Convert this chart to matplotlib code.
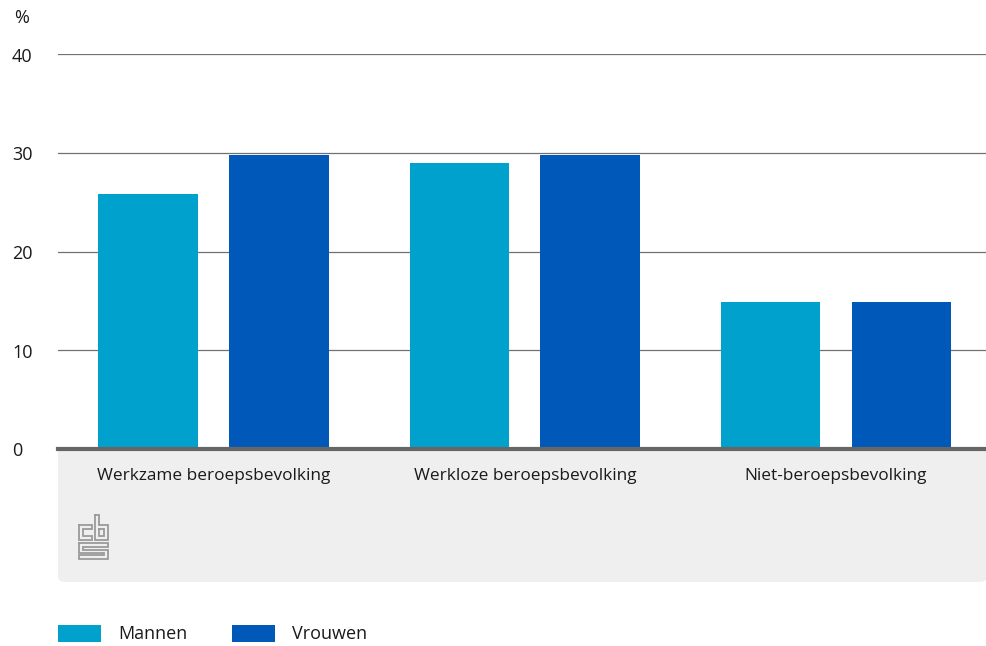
import matplotlib.pyplot as plt
from matplotlib.patches import FancyBboxPatch, Rectangle
from matplotlib.transforms import blended_transform_factory, offset_copy
import numpy as np

categories = ['Werkzame beroepsbevolking', 'Werkloze beroepsbevolking', 'Niet-beroepsbevolking']
mannen = [25.8, 29.0, 14.9]
vrouwen = [29.8, 29.8, 14.9]
yticks = [0, 10, 20, 30, 40]

c_man = '#00a1cd'
c_vrouw = '#0058b8'
txt = '#1a1a1a'
fs = 13

plt.rcParams['font.family'] = ['Open Sans', 'DejaVu Sans']

W, H = 987, 646
fig = plt.figure(figsize=(W / 100, H / 100), dpi=100)


def fx(px):
    return px / W


def fy(py):
    return 1 - py / H


# grey panel below the axis with rounded bottom corners
pad = 0.008
panel = FancyBboxPatch((fx(58) + pad, fy(582) + pad), fx(987 - 58) - 2 * pad, fy(449) - fy(582) - 2 * pad,
                       boxstyle='round,pad=%g' % pad, transform=fig.transFigure,
                       facecolor='#efefef', edgecolor='none', zorder=-2)
fig.patches.append(panel)
fig.patches.append(Rectangle((fx(58), fy(480)), fx(987 - 58), fy(449) - fy(480),
                             transform=fig.transFigure, facecolor='#efefef', edgecolor='none', zorder=-2))

ax = fig.add_axes([fx(58), fy(449), fx(987 - 58), fy(54) - fy(449)])
ax.patch.set_alpha(0)
x = np.arange(len(categories))
w = 0.32
off = 0.21
ax.bar(x - off, mannen, w, color=c_man, zorder=3, label='Mannen')
ax.bar(x + off, vrouwen, w, color=c_vrouw, zorder=3, label='Vrouwen')
ax.set_xlim(-0.5, 2.485)
ax.set_ylim(0, 40)
for t in yticks[1:]:
    ax.axhline(t, color='#707070', lw=0.9, zorder=1)
ax.axhline(0, color='#666666', lw=3, zorder=4, clip_on=False)
for s in ax.spines.values():
    s.set_visible(False)
ax.set_xticks([])
ax.set_yticks([])

# y tick labels at the far left
ytr = offset_copy(blended_transform_factory(fig.transFigure, ax.transData), fig=fig, y=-2.5, units='dots')
for t in yticks:
    ax.text(fx(12), t, str(t), transform=ytr, ha='left', va='center', fontsize=fs, color=txt)
fig.text(fx(14), fy(18), '%', ha='left', va='center', fontsize=fs, color=txt)

# category labels in the panel
xtr = blended_transform_factory(ax.transData, fig.transFigure)
for xi, c in zip(x, categories):
    ax.text(xi, fy(476), c, transform=xtr, ha='center', va='center', fontsize=12.4, color=txt)

# cbs logo (simplified)
lg = fig.add_axes([fx(78), fy(561), fx(32), fy(513) - fy(561)])
lg.set_xlim(0, 32)
lg.set_ylim(48, 0)
lg.axis('off')
gray = '#9a9a9a'
segs = [
    # c
    [(1, 12), (14, 12), (14, 16), (5, 16), (5, 23), (14, 23), (14, 27), (1, 27), (1, 12)],
    # b
    [(17, 2), (21, 2), (21, 12), (30, 12), (30, 27), (17, 27), (17, 2)],
    [(21, 16), (26, 16), (26, 23), (21, 23), (21, 16)],
    # s
    [(1, 30), (30, 30), (30, 34), (5, 34), (5, 37), (30, 37), (30, 46), (1, 46), (1, 42),
     (26, 42), (26, 40), (1, 40), (1, 30)],
]
for s in segs:
    xs, ys = zip(*s)
    lg.plot(xs, ys, color=gray, lw=1.3, solid_joinstyle='miter')

# legend
for px, lab, col in [(58, 'Mannen', c_man), (232, 'Vrouwen', c_vrouw)]:
    fig.patches.append(Rectangle((fx(px), fy(642)), fx(43), fy(625) - fy(642),
                                 transform=fig.transFigure, facecolor=col, edgecolor='none'))
    fig.text(fx(px + 60), fy(634), lab, ha='left', va='center', fontsize=fs, color=txt)

fig.savefig('out.png', dpi=100)
